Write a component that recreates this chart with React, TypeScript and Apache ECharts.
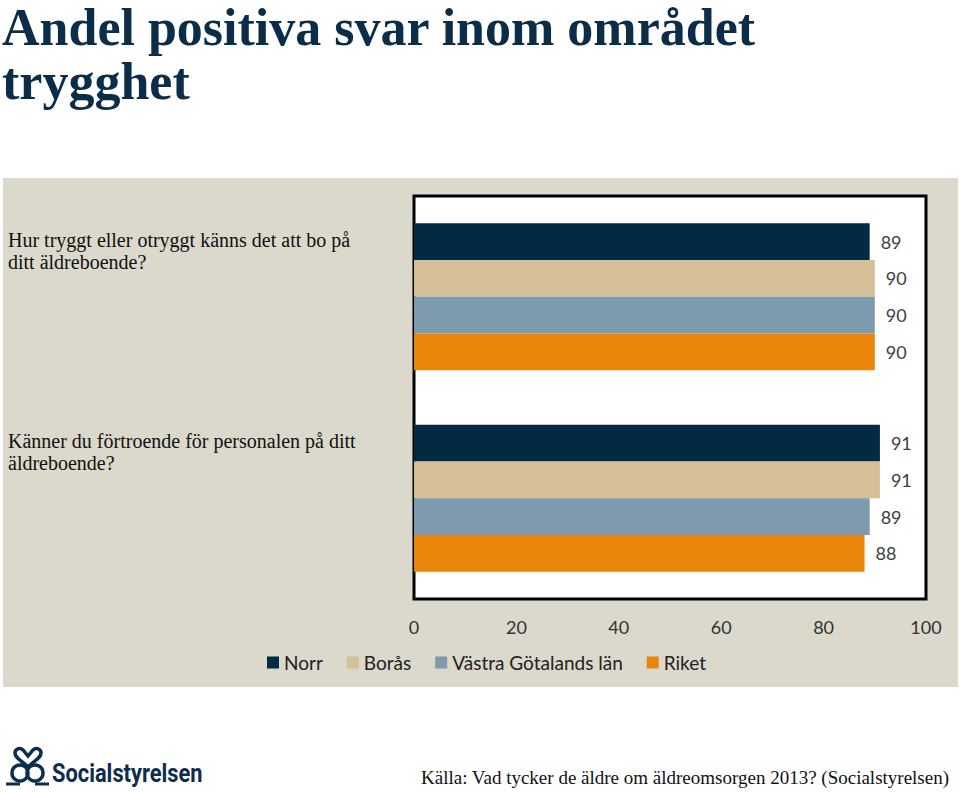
import React, { useEffect, useRef } from "react";
import * as echarts from "echarts";

const titleText = "Andel positiva svar inom området trygghet";
const questions = [
  "Hur tryggt eller otryggt känns det att bo på\nditt äldreboende?",
  "Känner du förtroende för personalen på ditt\näldreboende?",
];
const seriesNames = ["Norr", "Borås", "Västra Götalands län", "Riket"];
const norr = [89, 91];
const boras = [90, 91];
const vastraGotaland = [90, 89];
const riket = [90, 88];
const seriesColors = ["#022a42", "#d4bf97", "#7e9aae", "#e9860a"];
const sourceText = "Källa: Vad tycker de äldre om äldreomsorgen 2013? (Socialstyrelsen)";
const logoText = "Socialstyrelsen";

echarts.graphic.registerShape(
  "sosHeart",
  echarts.graphic.extendPath(
    "M20 19 C13 12 7 10 7 5 C7 1 12 -1 15 2 L20 8 L25 2 C28 -1 33 1 33 5 C33 10 27 12 20 19",
    {}
  )
);

export default function App() {
  const ref = useRef<HTMLDivElement>(null);
  useEffect(() => {
    if (!ref.current) return;
    const chart = echarts.init(ref.current, null, { renderer: "svg" });
    const allData = [norr, boras, vastraGotaland, riket];
    const labelFont = "Lato, 'Open Sans', sans-serif";
    chart.setOption({
      animation: false,
      backgroundColor: "#ffffff",
      title: {
        text: titleText,
        left: 2,
        top: 0,
        padding: 0,
        textStyle: {
          fontFamily: "'Liberation Serif', serif",
          fontWeight: "bold",
          fontSize: 52,
          color: "#0c2d47",
          width: 840,
          overflow: "break",
          lineHeight: 54,
        },
      },
      graphic: [
        {
          type: "rect",
          z: -10,
          shape: { x: 3, y: 178, width: 955, height: 509 },
          style: { fill: "#dbd8cc" },
        },
        {
          type: "sosHeart",
          x: 8,
          y: 748,
          style: { fill: "none", stroke: "#0d2d4d", lineWidth: 3.5 },
        },
        {
          type: "circle",
          shape: { cx: 20, cy: 773, r: 8 },
          style: { fill: "none", stroke: "#0d2d4d", lineWidth: 3.5 },
        },
        {
          type: "circle",
          shape: { cx: 35, cy: 773, r: 8 },
          style: { fill: "none", stroke: "#0d2d4d", lineWidth: 3.5 },
        },
        {
          type: "line",
          shape: { x1: 6, y1: 784, x2: 20, y2: 784 },
          style: { stroke: "#0d2d4d", lineWidth: 3 },
        },
        {
          type: "line",
          shape: { x1: 35, y1: 784, x2: 49, y2: 784 },
          style: { stroke: "#0d2d4d", lineWidth: 3 },
        },
        {
          type: "text",
          x: 52,
          y: 786,
          scaleX: 0.84,
          style: {
            text: logoText,
            fontFamily: "'Liberation Sans Narrow', 'Roboto', sans-serif",
            fontWeight: "bold",
            fontSize: 26,
            fill: "#0d2d4d",
            verticalAlign: "bottom",
          },
        },
        {
          type: "text",
          x: 949,
          y: 787,
          style: {
            text: sourceText,
            fontFamily: "'Liberation Serif', serif",
            fontSize: 19,
            fill: "#111111",
            align: "right",
            verticalAlign: "bottom",
          },
        },
      ],
      legend: {
        data: seriesNames,
        left: 262,
        top: 648,
        icon: "rect",
        itemWidth: 12,
        itemHeight: 12,
        itemGap: 24,
        textStyle: { fontFamily: labelFont, fontSize: 19, color: "#222222" },
      },
      grid: {
        left: 414,
        right: 34,
        top: 196,
        bottom: 193,
        show: true,
        backgroundColor: "#ffffff",
        borderColor: "#000000",
        borderWidth: 3,
        z: 1,
      },
      xAxis: {
        type: "value",
        min: 0,
        max: 100,
        interval: 20,
        axisLine: { show: false },
        axisTick: { show: false },
        splitLine: { show: true, lineStyle: { color: "#a6a6a6", width: 1 } },
        axisLabel: {
          margin: 19,
          fontFamily: labelFont,
          fontSize: 18,
          color: "#333333",
        },
      },
      yAxis: {
        type: "category",
        data: questions,
        inverse: true,
        axisLine: { show: false },
        axisTick: { show: false },
        axisLabel: {
          align: "left",
          verticalAlign: "bottom",
          margin: 406,
          padding: [0, 0, 24, 0],
          fontFamily: "'Liberation Serif', serif",
          fontSize: 20,
          lineHeight: 22,
          color: "#111111",
        },
      },
      series: seriesNames.map((name, i) => ({
        name,
        type: "bar",
        data: allData[i],
        barGap: "0%",
        barCategoryGap: "27%",
        itemStyle: { color: seriesColors[i] },
        label: {
          show: true,
          position: "right",
          distance: 11,
          fontFamily: labelFont,
          fontSize: 18,
          color: "#404040",
        },
      })),
    });
    return () => chart.dispose();
  }, []);
  return (
    <div
      ref={ref}
      style={{ position: "absolute", left: 0, top: 0, width: 960, height: 792 }}
    />
  );
}
